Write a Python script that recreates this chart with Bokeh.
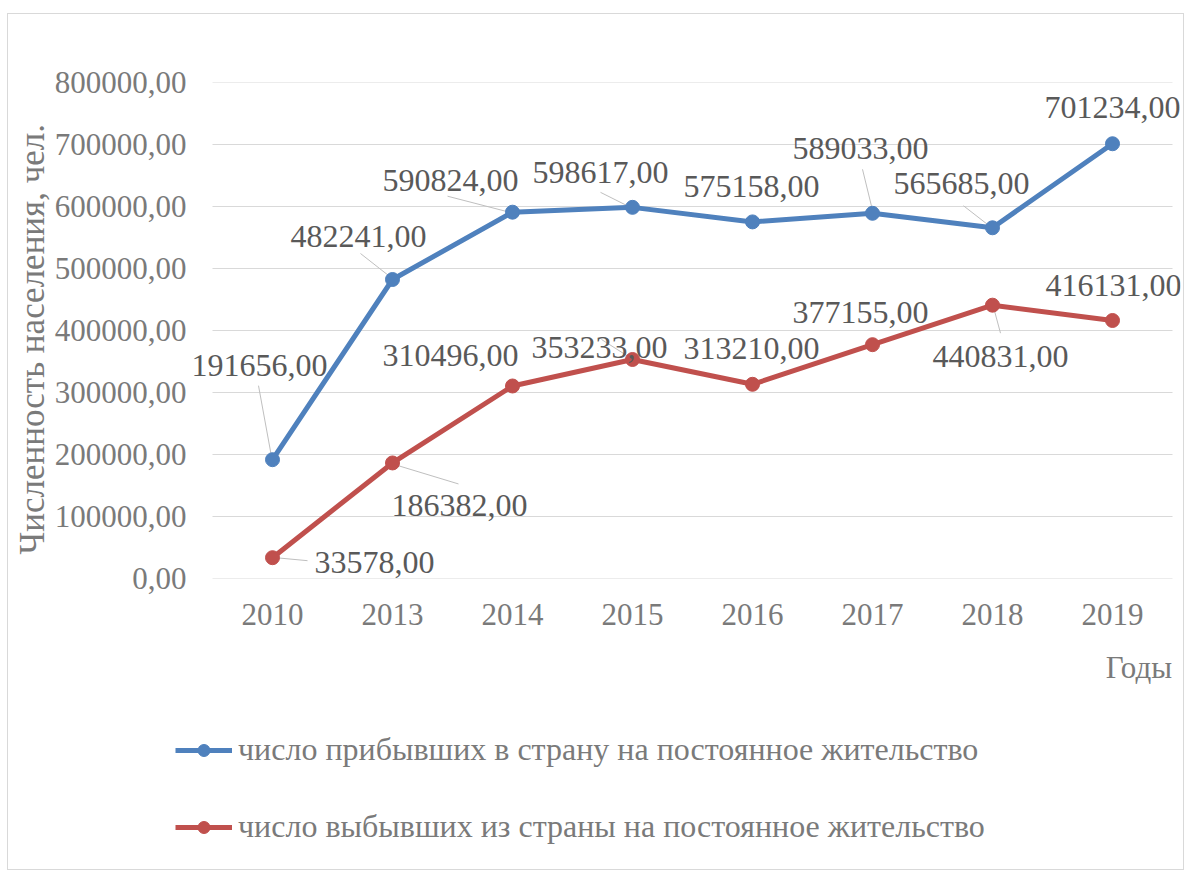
from bokeh.plotting import figure
from bokeh.layouts import column
from bokeh.models import (ColumnDataSource, LabelSet, Legend, LegendItem,
                          FixedTicker, Range1d)
from bokeh.core.properties import value
from bokeh.embed import file_html
from bokeh.resources import INLINE

# ---- data ----
years = ["2010", "2013", "2014", "2015", "2016", "2017", "2018", "2019"]
arrived = [191656, 482241, 590824, 598617, 575158, 589033, 565685, 701234]
departed = [33578, 186382, 310496, 353233, 313210, 377155, 440831, 416131]
y_ticks = [0, 100000, 200000, 300000, 400000, 500000, 600000, 700000, 800000]
y_tick_labels = ["0,00", "100000,00", "200000,00", "300000,00", "400000,00",
                 "500000,00", "600000,00", "700000,00", "800000,00"]
name_arrived = "число прибывших в страну на постоянное жительство"
name_departed = "число выбывших из страны на постоянное жительство"
y_title = "Численность населения, чел."
x_title = "Годы"

# ---- style (label offsets in screen px, dy down) ----
lab_off_arr = [(-13, -94), (-34, -43), (-62, -32), (-32, -35), (-1, -35), (-12, -65), (-31, -44), (0, -36)]
lab_off_dep = [(102, 5), (67, 43), (-62, -30), (-33, -12), (-1, -36), (-12, -32), (8, 51), (1, -35)]
lead_arr = [((-1, -3), (-14, -74)), ((-4, -4), (-32, -26)), ((-7, -1), (-65, -16)), ((-2, 0), (-32, -15)),
            None, ((0, -3), (-10, -44)), ((-2, -1), (-29, -22)), None]
lead_dep = [((3, 0), (35, 3)), ((0, 1), (66, 21)), None, ((-1, -1), (-31, -20)),
            None, None, ((1, 2), (8, 28)), None]

FONT = "'Liberation Serif', 'Times New Roman', serif"
AXIS_GRAY = "#7a7a7a"
LABEL_GRAY = "#595959"
BLUE = "#4f81bd"
RED = "#c0504d"
NB = "\u00a0"

CAT_W = 120          # px per category
FH = 496
EXTRA_L, EXTRA_R = 22, 8
FW = CAT_W * len(years) + EXTRA_L + EXTRA_R
XMIN = -0.5 - EXTRA_L / CAT_W
XMAX = len(years) - 0.5 + EXTRA_R / CAT_W
YMIN, YMAX = 0, 800000
px_x = 1.0 / CAT_W
px_y = (YMAX - YMIN) / FH
TOTAL_W = 1175
LEFT_B = 182
TOP_B = 68
BOT_B = 108
TOTAL_H = 854

p = figure(frame_width=FW, frame_height=FH, output_backend="svg", toolbar_location=None,
           x_range=Range1d(XMIN, XMAX), y_range=Range1d(YMIN, YMAX),
           min_border_left=LEFT_B, min_border_right=TOTAL_W - LEFT_B - FW,
           min_border_top=TOP_B, min_border_bottom=BOT_B)
p.outline_line_color = None
p.xgrid.grid_line_color = None
p.ygrid.grid_line_color = None

xs = list(range(len(years)))

# horizontal gridlines across the category area
p.segment([-0.5] * len(y_ticks), y_ticks, [len(years) - 0.5] * len(y_ticks), y_ticks,
          line_color="#d9d9d9", line_width=1)

# axes
p.xaxis.ticker = FixedTicker(ticks=xs)
p.xaxis.major_label_overrides = {i: y for i, y in enumerate(years)}
p.yaxis.ticker = FixedTicker(ticks=y_ticks)
p.yaxis.major_label_overrides = {v: l for v, l in zip(y_ticks, y_tick_labels)}
for ax in (p.xaxis, p.yaxis):
    ax.axis_line_color = None
    ax.major_tick_line_color = None
    ax.minor_tick_line_color = None
    ax.major_tick_out = 0
    ax.major_tick_in = 0
    ax.major_label_text_font = FONT
    ax.major_label_text_color = AXIS_GRAY
    ax.axis_label_text_font = FONT
    ax.axis_label_text_color = AXIS_GRAY
    ax.axis_label_text_font_style = "normal"
p.yaxis.major_label_text_font_size = "31px"
p.xaxis.major_label_text_font_size = "31px"
p.yaxis.axis_label_text_font_size = "35px"
p.xaxis.axis_label_text_font_size = "31px"
p.yaxis.major_label_standoff = 4
p.xaxis.major_label_standoff = 25

p.yaxis.axis_label = y_title + NB * 2
p.yaxis.axis_label_standoff = 0
try:
    p.xaxis[0].axis_label_align = "right"
    p.xaxis.axis_label = x_title
except Exception:
    p.xaxis.axis_label = NB * 117 + x_title
p.xaxis.axis_label_standoff = 22

# leader lines
x0s, y0s, x1s, y1s = [], [], [], []
for vals, leads in ((arrived, lead_arr), (departed, lead_dep)):
    for i, (v, ld) in enumerate(zip(vals, leads)):
        if ld is None:
            continue
        (a, b), (c, d) = ld
        x0s.append(i + a * px_x); y0s.append(v - b * px_y)
        x1s.append(i + c * px_x); y1s.append(v - d * px_y)
p.segment(x0s, y0s, x1s, y1s, line_color="#bfbfbf", line_width=1)

# series
l1 = p.line(xs, arrived, line_color=BLUE, line_width=5)
s1 = p.scatter(xs, arrived, size=14, fill_color=BLUE, line_color=BLUE)
l2 = p.line(xs, departed, line_color=RED, line_width=5)
s2 = p.scatter(xs, departed, size=14, fill_color=RED, line_color=RED)

# data labels
def fmt(v):
    return f"{v},00"

for vals, offs in ((arrived, lab_off_arr), (departed, lab_off_dep)):
    src = ColumnDataSource(dict(x=xs, y=vals, t=[fmt(v) for v in vals],
                                xo=[o[0] for o in offs], yo=[-o[1] for o in offs]))
    p.add_layout(LabelSet(x="x", y="y", text="t", x_offset="xo", y_offset="yo", source=src,
                          text_align="center", text_baseline="middle",
                          text_font=value(FONT), text_font_size=value("32px"),
                          text_color=LABEL_GRAY))

# legend in a second, axis-free figure below (series drawn outside its view)
MAIN_H = TOP_B + FH + BOT_B
LEG_H = TOTAL_H - MAIN_H
q = figure(frame_width=TOTAL_W, frame_height=LEG_H, output_backend="svg", toolbar_location=None,
           x_range=Range1d(-100, -99), y_range=Range1d(-100, -99),
           min_border=0, min_border_left=0, min_border_right=0,
           x_axis_location=None, y_axis_location=None)
q.outline_line_color = None
q.xgrid.grid_line_color = None
q.ygrid.grid_line_color = None
ql1 = q.line(xs, arrived, line_color=BLUE, line_width=5)
qs1 = q.scatter(xs, arrived, size=14, fill_color=BLUE, line_color=BLUE)
ql2 = q.line(xs, departed, line_color=RED, line_width=5)
qs2 = q.scatter(xs, departed, size=14, fill_color=RED, line_color=RED)
legend = Legend(items=[LegendItem(label=name_arrived, renderers=[ql1, qs1], index=0),
                       LegendItem(label=name_departed, renderers=[ql2, qs2], index=0)],
                location=(167, 24), orientation="vertical",
                glyph_width=57, glyph_height=30, label_height=30, spacing=40,
                label_standoff=6, padding=0, margin=0,
                label_text_font=FONT, label_text_font_size="32px", label_text_color=AXIS_GRAY,
                border_line_color=None, background_fill_alpha=0)
q.add_layout(legend)

layout = column(p, q, spacing=0)
layout.styles = {"border": "1px solid #d9d9d9", "margin-left": "7px", "margin-top": "13px"}
open("out.html", "w").write(file_html(layout, INLINE))
